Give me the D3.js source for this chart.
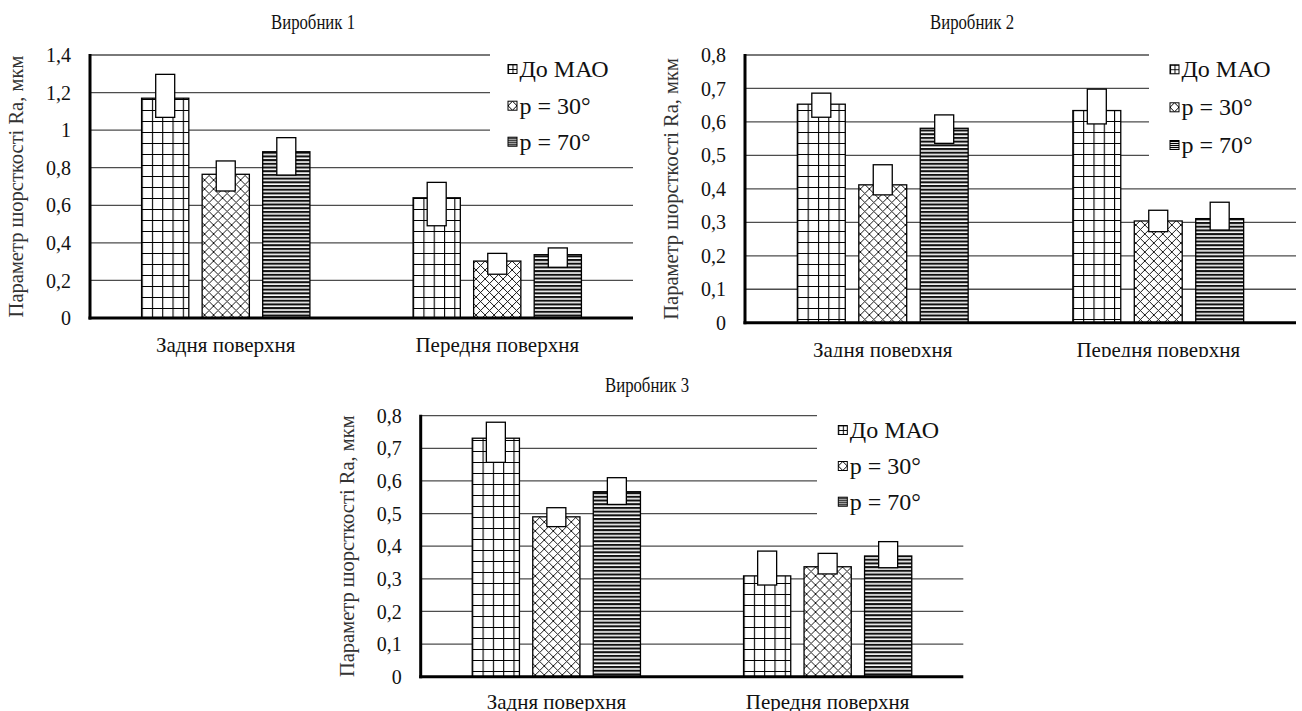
<!DOCTYPE html>
<html>
<head>
<meta charset="utf-8">
<script src="https://cdn.jsdelivr.net/npm/d3@7"></script>
<style>
  body { margin: 0; background: #fff; }
  svg { display: block; }
  svg text { font-family: "Liberation Serif", "Times New Roman", serif; }
</style>
</head>
<body>
<div id="chart"></div>
<script>
// categories and series
const categories = ["Задня поверхня", "Передня поверхня"];
const series = ["До МАО", "p = 30°", "p = 70°"];
const titles = ["Виробник 1", "Виробник 2", "Виробник 3"];
const yLabel = "Параметр шорсткості  Ra,  мкм";

// bar values, [category][series]
const m1Values = [[1.17, 0.765, 0.885], [0.64, 0.303, 0.337]];
const m1Low    = [[1.068, 0.676, 0.761], [0.491, 0.233, 0.27]];
const m1High   = [[1.297, 0.836, 0.96], [0.722, 0.344, 0.373]];

const m2Values = [[0.653, 0.412, 0.581], [0.634, 0.304, 0.311]];
const m2Low    = [[0.614, 0.382, 0.536], [0.594, 0.272, 0.277]];
const m2High   = [[0.686, 0.472, 0.621], [0.698, 0.336, 0.36]];

const m3Values = [[0.731, 0.49, 0.567], [0.309, 0.337, 0.37]];
const m3Low    = [[0.657, 0.46, 0.528], [0.281, 0.315, 0.334]];
const m3High   = [[0.78, 0.518, 0.61], [0.385, 0.378, 0.414]];

// tick labels
const m1Ticks = [0, 0.2, 0.4, 0.6, 0.8, 1, 1.2, 1.4];
const m23Ticks = [0, 0.1, 0.2, 0.3, 0.4, 0.5, 0.6, 0.7, 0.8];

const W = 1302, H = 711;
const serif = "'Liberation Serif', 'Times New Roman', serif";
const svg = d3.select("#chart").append("svg")
  .attr("width", W).attr("height", H)
  .style("font-family", serif);

// patterns
const defs = svg.append("defs");
const pGrid = defs.append("pattern").attr("id", "grid")
  .attr("patternUnits", "userSpaceOnUse").attr("width", 10.3).attr("height", 11);
pGrid.append("rect").attr("width", 10.3).attr("height", 11).attr("fill", "#fff");
pGrid.append("path").attr("d", "M0.5,0V11M0,0.5H10.3").attr("stroke", "#000").attr("stroke-width", 1.2);

const pCross = defs.append("pattern").attr("id", "cross")
  .attr("patternUnits", "userSpaceOnUse").attr("width", 9).attr("height", 9);
pCross.append("rect").attr("width", 9).attr("height", 9).attr("fill", "#fff");
pCross.append("path").attr("d", "M0,0L9,9M9,0L0,9M-1,8L1,10M8,-1L10,1").attr("stroke", "#000").attr("stroke-width", 0.9);

const pStripe = defs.append("pattern").attr("id", "stripe")
  .attr("patternUnits", "userSpaceOnUse").attr("width", 8).attr("height", 3.7);
pStripe.append("rect").attr("width", 8).attr("height", 3.7).attr("fill", "#fff");
pStripe.append("rect").attr("y", 0).attr("width", 8).attr("height", 2.1).attr("fill", "#111");

// small ones for legend keys
const pGridS = defs.append("pattern").attr("id", "gridS")
  .attr("patternUnits", "userSpaceOnUse").attr("width", 4.5).attr("height", 4.5);
pGridS.append("rect").attr("width", 4.5).attr("height", 4.5).attr("fill", "#fff");
pGridS.append("path").attr("d", "M0.5,0V4.5M0,0.5H4.5").attr("stroke", "#000").attr("stroke-width", 1);

const pCrossS = defs.append("pattern").attr("id", "crossS")
  .attr("patternUnits", "userSpaceOnUse").attr("width", 9).attr("height", 9);
pCrossS.append("rect").attr("width", 9).attr("height", 9).attr("fill", "#fff");
pCrossS.append("path").attr("d", "M0,0L9,9M9,0L0,9").attr("stroke", "#000").attr("stroke-width", 1);

const pStripeS = defs.append("pattern").attr("id", "stripeS")
  .attr("patternUnits", "userSpaceOnUse").attr("width", 4).attr("height", 2);
pStripeS.append("rect").attr("width", 4).attr("height", 2).attr("fill", "#fff");
pStripeS.append("rect").attr("width", 4).attr("height", 1.1).attr("fill", "#000");

const fills = ["url(#grid)", "url(#cross)", "url(#stripe)"];
const keyFills = ["url(#gridS)", "url(#crossS)", "url(#stripeS)"];

// layout of the three panels
const panels = [
  {title: titles[0], values: m1Values, low: m1Low, high: m1High, ticks: m1Ticks, yMax: 1.4,
   left: 90, right: 633, top: 55, bottom: 318, titleX: 313, titleY: 29,
   legX: 490, legY: 44, legH: 116, keyX: 508, rowY: [69, 105.7, 141.7], clipY: H},
  {title: titles[1], values: m2Values, low: m2Low, high: m2High, ticks: m23Ticks, yMax: 0.8,
   left: 745, right: 1296, top: 55, bottom: 322.7, titleX: 972, titleY: 29,
   legX: 1149, legY: 44, legH: 128, keyX: 1170, rowY: [69.3, 107.3, 145], clipY: 357},
  {title: titles[2], values: m3Values, low: m3Low, high: m3High, ticks: m23Ticks, yMax: 0.8,
   left: 420.7, right: 963.3, top: 415.7, bottom: 676.7, titleX: 647, titleY: 392,
   legX: 817, legY: 405, legH: 120, keyX: 838.3, rowY: [430, 466, 501.7], clipY: H}
];

const fmt = v => String(+v.toFixed(1)).replace(".", ",");

panels.forEach(function(p, pi) {
  const g = svg.append("g");

  const y = d3.scaleLinear().domain([0, p.yMax]).range([p.bottom, p.top]);
  const x0 = d3.scaleBand().domain(categories).range([p.left, p.right])
    .paddingInner(0.38).paddingOuter(0.19);
  const x1 = d3.scaleBand().domain(series).range([0, x0.bandwidth()]).paddingInner(0.22);

  // gridlines
  g.append("g").selectAll("line")
    .data(p.ticks.slice(1))
    .join("line")
      .attr("x1", p.left).attr("x2", p.right)
      .attr("y1", d => y(d)).attr("y2", d => y(d))
      .attr("stroke", "#4d4d4d").attr("stroke-width", 1.3);

  // legend box (white, hides the gridlines behind it)
  g.append("rect")
    .attr("x", p.legX).attr("y", p.legY)
    .attr("width", p.right - p.legX + 2).attr("height", p.legH)
    .attr("fill", "#fff");

  // y tick labels
  g.append("g")
    .attr("transform", `translate(${p.left - 19}, 0)`)
    .call(d3.axisLeft(y).tickValues(p.ticks).tickSize(0).tickPadding(0).tickFormat(fmt))
    .attr("font-family", serif)
    .attr("font-size", 20)
    .call(a => a.select(".domain").remove())
    .selectAll("text")
      .attr("fill", "#111")
      .attr("dy", "0.33em");

  // bars
  const groups = g.append("g").selectAll("g")
    .data(categories)
    .join("g")
      .attr("transform", d => `translate(${x0(d)}, 0)`);

  groups.selectAll("rect.bar")
    .data((c, ci) => series.map((s, si) => ({s: s, si: si, v: p.values[ci][si]})))
    .join("rect")
      .attr("class", "bar")
      .attr("x", d => x1(d.s))
      .attr("y", d => y(d.v))
      .attr("width", x1.bandwidth())
      .attr("height", d => y(0) - y(d.v))
      .attr("fill", d => fills[d.si])
      .attr("stroke", "#000")
      .attr("stroke-width", 1.3);

  // white range boxes
  const boxW = 19;
  groups.selectAll("rect.box")
    .data((c, ci) => series.map((s, si) => ({s: s, lo: p.low[ci][si], hi: p.high[ci][si]})))
    .join("rect")
      .attr("class", "box")
      .attr("x", d => x1(d.s) + x1.bandwidth() / 2 - boxW / 2)
      .attr("y", d => y(d.hi))
      .attr("width", boxW)
      .attr("height", d => y(d.lo) - y(d.hi))
      .attr("fill", "#fff")
      .attr("stroke", "#000")
      .attr("stroke-width", 1.3);

  // axes lines
  g.append("line")
    .attr("x1", p.left).attr("x2", p.left)
    .attr("y1", p.top - 1).attr("y2", p.bottom + 1.5)
    .attr("stroke", "#000").attr("stroke-width", 3);
  g.append("line")
    .attr("x1", p.left - 1.5).attr("x2", p.right)
    .attr("y1", p.bottom).attr("y2", p.bottom)
    .attr("stroke", "#000").attr("stroke-width", 3);

  // category labels (clipped like the source image)
  defs.append("clipPath").attr("id", "clip" + pi)
    .append("rect").attr("x", p.left - 100).attr("y", 0)
    .attr("width", p.right - p.left + 200).attr("height", p.clipY);
  g.append("g").attr("clip-path", `url(#clip${pi})`)
    .selectAll("text")
    .data(categories)
    .join("text")
      .attr("x", d => x0(d) + x0.bandwidth() / 2)
      .attr("y", Math.min(p.bottom + 34, H - 2))
      .attr("text-anchor", "middle")
      .attr("font-family", serif)
      .attr("font-size", 21)
      .attr("fill", "#111")
      .text(d => d);

  // y axis title
  g.append("text")
    .attr("transform", `translate(${p.left - 67}, ${(p.top + p.bottom) / 2}) rotate(-90)`)
    .attr("text-anchor", "middle")
    .attr("font-family", serif)
    .attr("font-size", 20.5)
    .attr("fill", "#333")
    .text(yLabel);

  // chart title
  g.append("text")
    .attr("x", p.titleX).attr("y", p.titleY)
    .attr("text-anchor", "middle")
    .attr("font-family", serif)
    .attr("font-size", 20)
    .attr("textLength", 84)
    .attr("lengthAdjust", "spacingAndGlyphs")
    .attr("fill", "#111")
    .text(p.title);

  // legend
  const leg = g.append("g").selectAll("g")
    .data(series)
    .join("g")
      .attr("transform", (d, i) => `translate(${p.keyX}, ${p.rowY[i]})`);
  leg.append("rect")
    .attr("x", 0).attr("y", -4.5).attr("width", 9).attr("height", 9)
    .attr("fill", (d, i) => keyFills[i])
    .attr("stroke", "#000").attr("stroke-width", 1);
  leg.append("text")
    .attr("x", 11.5).attr("y", 8)
    .attr("font-family", serif)
    .attr("font-size", 24)
    .attr("fill", "#111")
    .text(d => d);
});
</script>
</body>
</html>
